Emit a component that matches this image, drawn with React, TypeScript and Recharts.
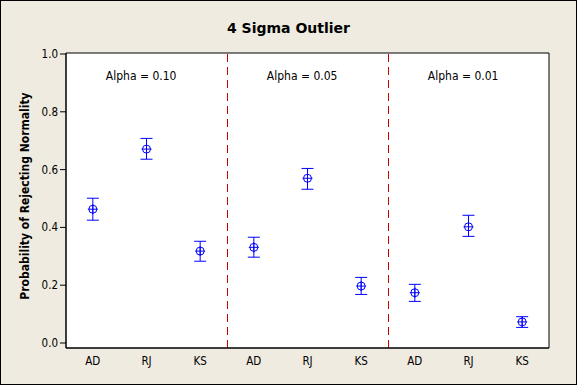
import { ScatterChart, Scatter, ErrorBar, XAxis, YAxis, ReferenceLine, ReferenceArea, ReferenceDot } from 'recharts';

const tests = ['AD', 'RJ', 'KS', 'AD', 'RJ', 'KS', 'AD', 'RJ', 'KS'];
const alphaLabels = ['Alpha = 0.10', 'Alpha = 0.05', 'Alpha = 0.01'];
const means = [0.463, 0.671, 0.318, 0.331, 0.57, 0.197, 0.174, 0.402, 0.073];
const lower = [0.425, 0.636, 0.283, 0.297, 0.532, 0.168, 0.144, 0.369, 0.054];
const upper = [0.501, 0.708, 0.352, 0.366, 0.604, 0.227, 0.203, 0.442, 0.091];
const yTicks = [0, 0.2, 0.4, 0.6, 0.8, 1.0];

const points = means.map((m, i) => ({
  x: i + 0.5,
  y: m,
  err: [m - lower[i], upper[i] - m],
}));

const FONT = "Tahoma, 'DejaVu Sans Condensed', 'DejaVu Sans', sans-serif";
const BLUE = '#0000ff';
const SEP = '#c80000';

const CrossCircle = (props: any) => {
  const { cx, cy } = props;
  return (
    <g>
      <circle cx={cx} cy={cy} r={4} fill="none" stroke={BLUE} strokeWidth={1} />
      <line x1={cx - 5} y1={cy} x2={cx + 5} y2={cy} stroke={BLUE} strokeWidth={1} />
      <line x1={cx} y1={cy - 5} x2={cx} y2={cy + 5} stroke={BLUE} strokeWidth={1} />
    </g>
  );
};

// dashed separator, nudged half a pixel so it draws sharp
const SepLine = (props: any) => {
  const { x1, y1, x2, y2 } = props;
  return <line x1={x1 + 0.5} y1={y1} x2={x2 + 0.5} y2={y2} stroke={SEP} strokeWidth={1} strokeDasharray="8 5" />;
};

export default function App() {
  const tickStyle = { fontSize: 11.5, fill: '#000', fontFamily: FONT };
  return (
    <div style={{ position: 'fixed', left: 0, top: 0, width: 577, height: 385, background: '#efebe0', fontFamily: FONT }}>
      <ScatterChart width={577} height={385} margin={{ top: 53, right: 28, bottom: 0, left: 0 }}>
        <XAxis
          type="number"
          dataKey="x"
          domain={[0, 9]}
          ticks={points.map((p) => p.x)}
          tickFormatter={(v: number) => tests[Math.floor(v)]}
          allowDataOverflow
          height={37}
          tickLine={false}
          tickSize={0}
          tickMargin={9}
          axisLine={{ stroke: '#000' }}
          tick={tickStyle}
        />
        <YAxis
          type="number"
          dataKey="y"
          domain={[-0.0173, 1.0035]}
          ticks={yTicks}
          tickFormatter={(v: number) => v.toFixed(1)}
          allowDataOverflow
          width={66}
          tickSize={6}
          tickMargin={2}
          tickLine={{ stroke: '#000' }}
          axisLine={{ stroke: '#000' }}
          tick={tickStyle}
        />
        <ReferenceArea x1={0} x2={9} y1={-0.0173} y2={1.0035} fill="#fff" fillOpacity={1} stroke="#000" strokeWidth={1} />
        <ReferenceLine x={3} shape={SepLine} />
        <ReferenceLine x={6} shape={SepLine} />
        {alphaLabels.map((label, g) => (
          <ReferenceDot
            key={label}
            x={g * 3 + 1.4}
            y={0.924}
            r={0}
            fill="none"
            stroke="none"
            label={{ value: label, position: 'center', fontSize: 12, fill: '#000', fontFamily: FONT }}
          />
        ))}
        <Scatter data={points} shape={CrossCircle} isAnimationActive={false}>
          <ErrorBar dataKey="err" direction="y" width={6} stroke={BLUE} strokeWidth={1} />
        </Scatter>
      </ScatterChart>
      <div
        style={{
          position: 'absolute',
          left: 0,
          top: 20,
          width: 577,
          textAlign: 'center',
          fontSize: 14,
          fontWeight: 'bold',
          fontFamily: "'DejaVu Sans', sans-serif",
          color: '#000',
        }}
      >
        4 Sigma Outlier
      </div>
      <div
        style={{
          position: 'absolute',
          left: 25,
          top: 196,
          transform: 'translate(-50%, -50%) rotate(-90deg)',
          whiteSpace: 'nowrap',
          fontSize: 12,
          fontWeight: 'bold',
          color: '#000',
        }}
      >
        Probability of Rejecting Normality
      </div>
      <div style={{ position: 'absolute', inset: 0, border: '1px solid #000', pointerEvents: 'none' }} />
    </div>
  );
}
